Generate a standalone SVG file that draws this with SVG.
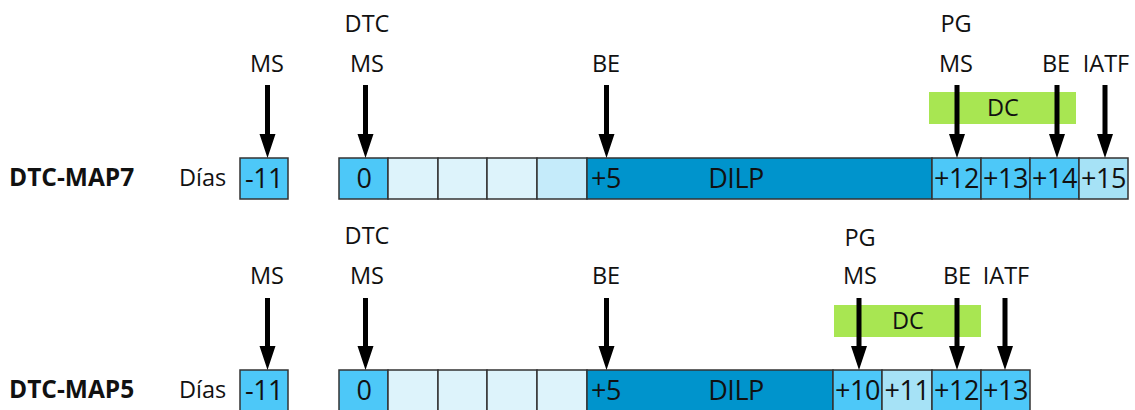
<svg xmlns="http://www.w3.org/2000/svg" width="1135" height="410" viewBox="0 0 1135 410">
<defs>
<style>
text{font-family:"Open Sans","Liberation Sans",sans-serif;fill:#111}
.lbl{font-size:23.5px;text-anchor:middle}
.title{font-size:24.5px;font-weight:bold}
.dias{font-size:23.5px}
.bt{font-size:27px;text-anchor:middle;letter-spacing:-0.5px}
.box{stroke:#333;stroke-width:1.5}
.c1{fill:#4dc8f8}
.c2{fill:#ddf3fb}
.c3{fill:#c5ebfa}
.c4{fill:#a6e2f6}
.dilp{fill:#0094cc}
.dc{fill:#a8e652}
</style>
</defs>

<g id="row1">
<text class="title" x="9" y="186">DTC-MAP7</text>
<text class="dias" x="179" y="186">Días</text>
<g id="r1-m11"><rect class="box c1" x="240" y="158" width="48" height="41"/><text class="bt" x="264" y="188">-11</text></g>
<g id="r1-0"><rect class="box c1" x="339" y="158" width="49" height="41"/><text class="bt" x="364" y="188">0</text></g>
<g id="r1-1"><rect class="box c2" x="388" y="158" width="50" height="41"/></g>
<g id="r1-2"><rect class="box c2" x="438" y="158" width="49" height="41"/></g>
<g id="r1-3"><rect class="box c2" x="487" y="158" width="50" height="41"/></g>
<g id="r1-4"><rect class="box c3" x="537" y="158" width="50" height="41"/></g>
<g id="r1-dilp"><rect class="box dilp" x="587" y="158" width="345" height="41"/><text class="bt" x="591" y="188" style="text-anchor:start">+5</text><text class="bt" x="736" y="188">DILP</text></g>
<g id="r1-12"><rect class="box c1" x="932" y="158" width="49" height="41"/><text class="bt" x="956.5" y="188">+12</text></g>
<g id="r1-13"><rect class="box c1" x="981" y="158" width="49" height="41"/><text class="bt" x="1005.5" y="188">+13</text></g>
<g id="r1-14"><rect class="box c1" x="1030" y="158" width="49" height="41"/><text class="bt" x="1054.5" y="188">+14</text></g>
<g id="r1-15"><rect class="box c4" x="1079" y="158" width="49" height="41"/><text class="bt" x="1103.5" y="188">+15</text></g>
<g id="r1-dc"><rect class="dc" x="929" y="92" width="147" height="32"/><text class="lbl" x="1003" y="116">DC</text></g>
<g id="r1-labels">
<text class="lbl" x="267" y="72">MS</text>
<text class="lbl" x="367" y="32">DTC</text>
<text class="lbl" x="367" y="72">MS</text>
<text class="lbl" x="606" y="72">BE</text>
<text class="lbl" x="956" y="32">PG</text>
<text class="lbl" x="956" y="72">MS</text>
<text class="lbl" x="1056" y="72">BE</text>
<text class="lbl" x="1106" y="72">IATF</text>
</g>
</g>

<g id="row2">
<text class="title" x="9" y="398">DTC-MAP5</text>
<text class="dias" x="179" y="398">Días</text>
<g id="r2-m11"><rect class="box c1" x="240" y="370" width="48" height="41"/><text class="bt" x="264" y="400">-11</text></g>
<g id="r2-0"><rect class="box c1" x="339" y="370" width="49" height="41"/><text class="bt" x="364" y="400">0</text></g>
<g id="r2-1"><rect class="box c2" x="388" y="370" width="50" height="41"/></g>
<g id="r2-2"><rect class="box c2" x="438" y="370" width="49" height="41"/></g>
<g id="r2-3"><rect class="box c2" x="487" y="370" width="50" height="41"/></g>
<g id="r2-4"><rect class="box c2" x="537" y="370" width="50" height="41"/></g>
<g id="r2-dilp"><rect class="box dilp" x="587" y="370" width="246" height="41"/><text class="bt" x="591" y="400" style="text-anchor:start">+5</text><text class="bt" x="736" y="400">DILP</text></g>
<g id="r2-10"><rect class="box c1" x="833" y="370" width="49" height="41"/><text class="bt" x="857.5" y="400">+10</text></g>
<g id="r2-11"><rect class="box c4" x="882" y="370" width="50" height="41"/><text class="bt" x="907" y="400">+11</text></g>
<g id="r2-12"><rect class="box c1" x="932" y="370" width="49" height="41"/><text class="bt" x="956.5" y="400">+12</text></g>
<g id="r2-13"><rect class="box c1" x="981" y="370" width="49" height="41"/><text class="bt" x="1005.5" y="400">+13</text></g>
<g id="r2-dc"><rect class="dc" x="834" y="305" width="147" height="32"/><text class="lbl" x="908" y="329">DC</text></g>
<g id="r2-labels">
<text class="lbl" x="267" y="284">MS</text>
<text class="lbl" x="367" y="244">DTC</text>
<text class="lbl" x="367" y="284">MS</text>
<text class="lbl" x="606" y="284">BE</text>
<text class="lbl" x="860" y="246">PG</text>
<text class="lbl" x="860" y="284">MS</text>
<text class="lbl" x="957" y="284">BE</text>
<text class="lbl" x="1006" y="284">IATF</text>
</g>
</g>

<g id="connectors" fill="#000">
<g id="a-r1">
<path d="M267.5,85 V136 M365.5,85 V136 M606.5,85 V136 M957,85 V136 M1057,85 V136 M1105,85 V136" stroke="#000" stroke-width="5"/>
<path d="M259.5,134 h16 l-8,24 z M357.5,134 h16 l-8,24 z M598.5,134 h16 l-8,24 z M949,134 h16 l-8,24 z M1049,134 h16 l-8,24 z M1097,134 h16 l-8,24 z"/>
</g>
<g id="a-r2">
<path d="M267.5,298 V348 M365.5,298 V348 M606.5,298 V348 M859,298 V348 M957,298 V348 M1005,298 V348" stroke="#000" stroke-width="5"/>
<path d="M259.5,346 h16 l-8,24 z M357.5,346 h16 l-8,24 z M598.5,346 h16 l-8,24 z M851,346 h16 l-8,24 z M949,346 h16 l-8,24 z M997,346 h16 l-8,24 z"/>
</g>
</g>
</svg>
